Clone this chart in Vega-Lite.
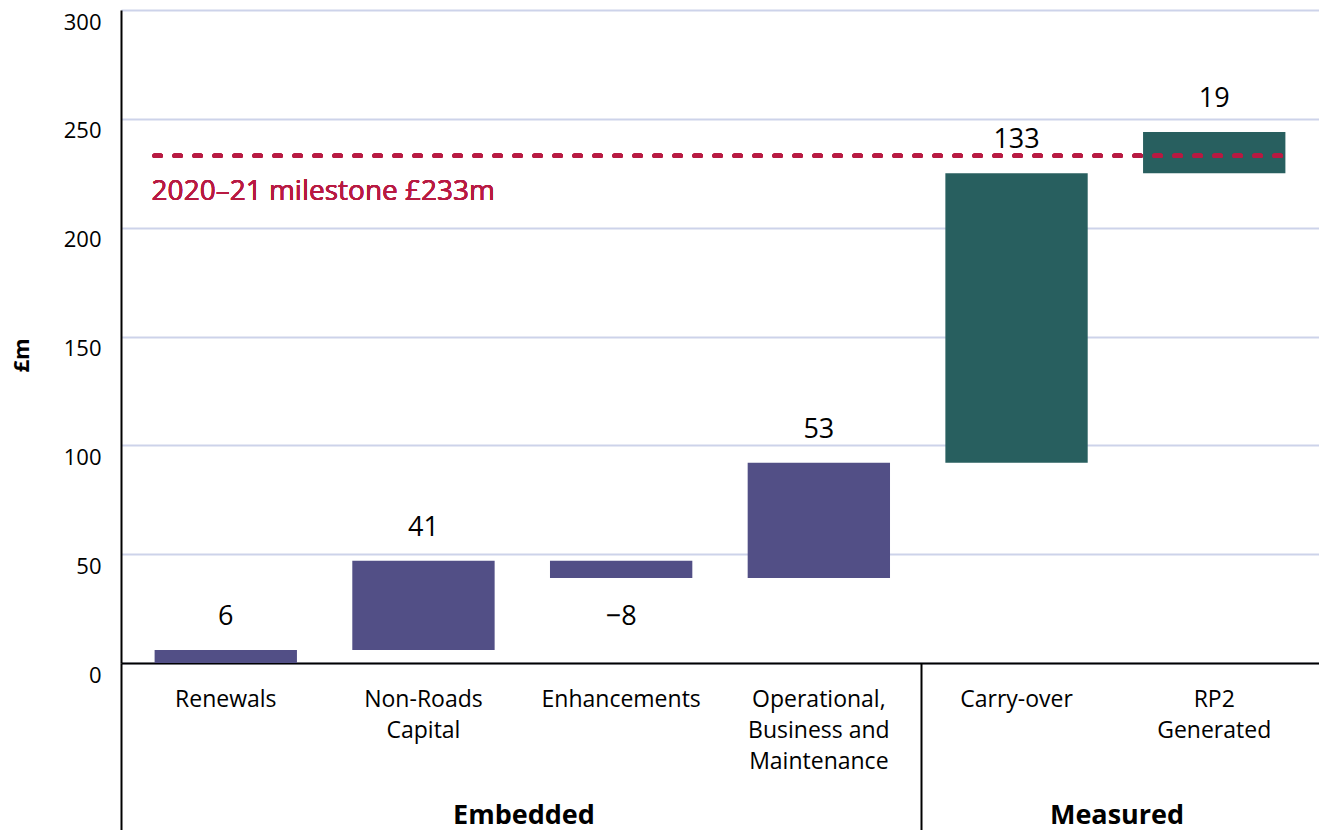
{
  "$schema": "https://vega.github.io/schema/vega-lite/v6.json",
  "width": 1198,
  "height": 653,
  "autosize": {"type": "none"},
  "padding": {"left": 121, "top": 10, "right": 0, "bottom": 167},
  "background": "white",
  "config": {
    "font": "Open Sans",
    "view": {"stroke": null}
  },
  "data": {
    "values": [
      {"category": "Renewals", "group": "Embedded", "start": 0, "end": 6, "label": "6"},
      {"category": "Non-Roads Capital", "group": "Embedded", "start": 6, "end": 47, "label": "41"},
      {"category": "Enhancements", "group": "Embedded", "start": 47, "end": 39, "label": "−8"},
      {"category": "Operational, Business and Maintenance", "group": "Embedded", "start": 39, "end": 92, "label": "53"},
      {"category": "Carry-over", "group": "Measured", "start": 92, "end": 225, "label": "133"},
      {"category": "RP2 Generated", "group": "Measured", "start": 225, "end": 244, "label": "19"}
    ]
  },
  "resolve": {"axis": {"x": "independent"}},
  "layer": [
    {
      "mark": {"type": "bar"},
      "encoding": {
        "x": {
          "field": "category", "type": "nominal", "sort": null,
          "scale": {"paddingInner": 0.28, "paddingOuter": 0.17},
          "axis": {
            "orient": "bottom",
            "title": null, "labelAngle": 0, "ticks": false,
            "domainColor": "black", "domainWidth": 2,
            "labelFontSize": 23, "labelColor": "black", "labelPadding": 25,
            "labelLineHeight": 31, "labelBaseline": "top",
            "labelExpr": "datum.value == 'Non-Roads Capital' ? ['Non-Roads', 'Capital'] : datum.value == 'Operational, Business and Maintenance' ? ['Operational,', 'Business and', 'Maintenance'] : datum.value == 'RP2 Generated' ? ['RP2', 'Generated'] : datum.value"
          }
        },
        "y": {
          "field": "start", "type": "quantitative",
          "scale": {"domain": [0, 300], "nice": false},
          "axis": {
            "title": "£m", "titleFontSize": 22, "titleFontWeight": "bold", "titleColor": "black",
            "titlePadding": 30, "titleY": 345,
            "values": [0, 50, 100, 150, 200, 250, 300],
            "ticks": false, "domainColor": "black", "domainWidth": 2,
            "gridColor": "#cdd3ea", "gridWidth": 2,
            "labelFontSize": 22, "labelColor": "black", "labelPadding": 20,
            "labelBaseline": "top", "labelOffset": 2
          }
        },
        "y2": {"field": "end"},
        "color": {
          "field": "group", "type": "nominal",
          "scale": {"domain": ["Embedded", "Measured"], "range": ["#524f86", "#285f5f"]},
          "legend": null
        }
      }
    },
    {
      "transform": [{"filter": "datum.end > datum.start"}],
      "mark": {"type": "text", "fontSize": 27, "color": "black", "baseline": "middle", "dy": -33},
      "encoding": {
        "x": {"field": "category", "type": "nominal", "sort": null, "axis": null},
        "y": {"field": "end", "type": "quantitative"},
        "text": {"field": "label"}
      }
    },
    {
      "transform": [{"filter": "datum.end < datum.start"}],
      "mark": {"type": "text", "fontSize": 27, "color": "black", "baseline": "middle", "dy": 39},
      "encoding": {
        "x": {"field": "category", "type": "nominal", "sort": null, "axis": null},
        "y": {"field": "end", "type": "quantitative"},
        "text": {"field": "label"}
      }
    },
    {
      "mark": {"type": "rule", "color": "#b81a42", "strokeWidth": 4.5, "strokeDash": [6, 14], "strokeCap": "round"},
      "encoding": {
        "x": {"datum": "Renewals", "type": "nominal", "bandPosition": 0, "axis": null},
        "x2": {"datum": "RP2 Generated", "bandPosition": 1},
        "y": {"datum": 233, "type": "quantitative"}
      }
    },
    {
      "mark": {"type": "text", "fontSize": 28, "color": "#b81a42", "align": "left", "baseline": "middle", "dy": 36, "dx": -3},
      "encoding": {
        "x": {"datum": "Renewals", "type": "nominal", "bandPosition": 0, "axis": null},
        "y": {"datum": 233, "type": "quantitative"},
        "text": {"value": "2020–21 milestone £233m"}
      }
    },
    {
      "mark": {"type": "point", "opacity": 0},
      "encoding": {
        "x": {
          "field": "category", "type": "nominal", "sort": null,
          "axis": {
            "orient": "bottom",
            "title": null, "domain": false, "labelAngle": 0,
            "bandPosition": 0, "tickOffset": -24,
            "tickSize": 170, "tickWidth": 2, "tickColor": "black",
            "tickOpacity": {"condition": {"test": "datum.value == 'Carry-over'", "value": 1}, "value": 0},
            "labelExpr": "datum.value == 'Non-Roads Capital' ? 'Embedded' : datum.value == 'Carry-over' ? 'Measured' : ''",
            "labelOffset": 124, "labelFontSize": 27, "labelFontWeight": "bold", "labelColor": "black",
            "labelPadding": -18, "labelBaseline": "middle", "labelAlign": "center"
          }
        },
        "y": {"field": "end", "type": "quantitative"}
      }
    },
    {
      "mark": {"type": "point", "opacity": 0},
      "encoding": {
        "x": {
          "field": "category", "type": "nominal", "sort": null,
          "axis": {
            "orient": "bottom",
            "title": null, "domain": false, "labels": false,
            "bandPosition": 0, "tickOffset": -34,
            "tickSize": 170, "tickWidth": 2, "tickColor": "black",
            "tickOpacity": {"condition": {"test": "datum.value == 'Renewals'", "value": 1}, "value": 0}
          }
        },
        "y": {"field": "end", "type": "quantitative"}
      }
    }
  ]
}
